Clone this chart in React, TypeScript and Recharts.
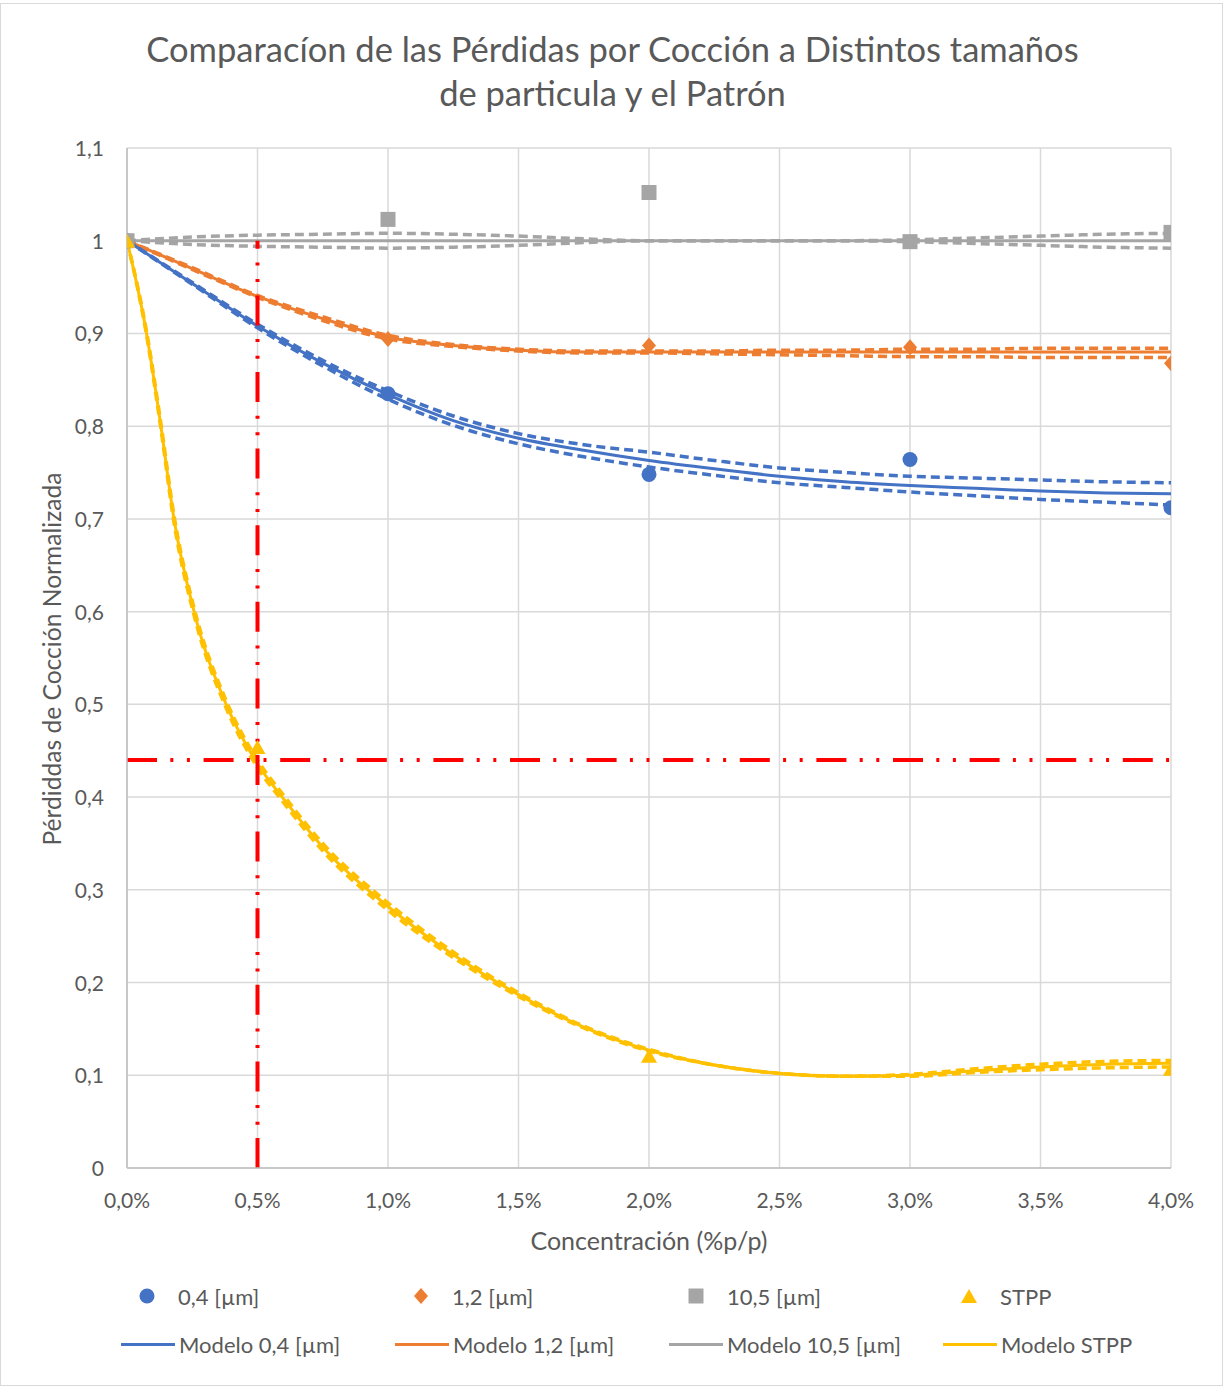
import { ComposedChart, Line, Scatter, XAxis, YAxis, CartesianGrid } from 'recharts';

// ---- data ----
const xTicks = [0, 0.5, 1, 1.5, 2, 2.5, 3, 3.5, 4];
const yTicks = [0, 0.1, 0.2, 0.3, 0.4, 0.5, 0.6, 0.7, 0.8, 0.9, 1, 1.1];

const sampleX = [0, 1, 2, 3, 4];
const blueY = [1, 0.835, 0.748, 0.764, 0.712];
const orangeY = [1, 0.894, 0.887, 0.885, 0.868];
const grayY = [1, 1.023, 1.052, 0.999, 1.009];
const stppX = [0, 0.5, 2, 4];
const stppY = [1, 0.454, 0.121, 0.107];

const modelX = [0, 0.25, 0.5, 0.75, 1, 1.25, 1.5, 1.75, 2, 2.25, 2.5, 2.75, 3, 3.25, 3.5, 3.75, 4];
const blueModel = [1, 0.954, 0.908, 0.868, 0.834, 0.806, 0.787, 0.774, 0.763, 0.754, 0.746, 0.74, 0.736, 0.733, 0.73, 0.728, 0.727];
const blueUpper = [1, 0.955, 0.91, 0.871, 0.838, 0.811, 0.792, 0.78, 0.772, 0.763, 0.755, 0.75, 0.746, 0.744, 0.742, 0.74, 0.739];
const blueLower = [1, 0.953, 0.906, 0.865, 0.829, 0.801, 0.781, 0.767, 0.756, 0.747, 0.739, 0.734, 0.729, 0.725, 0.721, 0.718, 0.715];
const orangeModel = [1, 0.97, 0.94, 0.916, 0.896, 0.887, 0.882, 0.88, 0.88, 0.88, 0.88, 0.88, 0.88, 0.88, 0.88, 0.88, 0.88];
const orangeUpper = [1, 0.971, 0.941, 0.918, 0.898, 0.888, 0.883, 0.881, 0.881, 0.881, 0.882, 0.882, 0.883, 0.883, 0.884, 0.884, 0.884];
const orangeLower = [1, 0.969, 0.939, 0.914, 0.894, 0.886, 0.881, 0.879, 0.879, 0.878, 0.877, 0.876, 0.875, 0.875, 0.874, 0.874, 0.874];
const grayModel = [1, 1, 1, 1, 1, 1, 1, 1, 1, 1, 1, 1, 1, 1, 1, 1, 1];
const grayUpper = [1, 1.004, 1.006, 1.007, 1.008, 1.007, 1.005, 1.002, 1, 1, 1, 1, 1.001, 1.003, 1.005, 1.007, 1.008];
const grayLower = [1, 0.996, 0.994, 0.993, 0.992, 0.993, 0.995, 0.998, 1, 1, 1, 1, 0.999, 0.997, 0.995, 0.993, 0.992];

const stppModelX = [0, 0.075, 0.13, 0.18, 0.257, 0.38, 0.5, 0.6, 0.75, 1, 1.25, 1.5, 1.75, 2, 2.25, 2.5, 2.75, 3, 3.25, 3.5, 3.75, 4];
const stppModel = [1, 0.9, 0.8, 0.7, 0.6, 0.5, 0.436, 0.398, 0.346, 0.282, 0.23, 0.187, 0.152, 0.127, 0.111, 0.102, 0.099, 0.1, 0.105, 0.109, 0.112, 0.113];
const stppUpper = [1, 0.902, 0.803, 0.704, 0.604, 0.504, 0.44, 0.402, 0.35, 0.286, 0.233, 0.189, 0.153, 0.128, 0.111, 0.102, 0.099, 0.101, 0.107, 0.112, 0.115, 0.116];
const stppLower = [1, 0.898, 0.797, 0.696, 0.596, 0.496, 0.432, 0.394, 0.342, 0.278, 0.227, 0.185, 0.151, 0.126, 0.111, 0.102, 0.099, 0.099, 0.103, 0.106, 0.108, 0.109];

const guideHX = [0, 4];
const guideHY = [0.44, 0.44];
const guideVX = [0.5, 0.5];
const guideVY = [0, 1];

const zip = (xs: number[], ys: number[]) => xs.map((x, i) => ({ x, y: ys[i] }));

const BLUE = '#4472C4';
const ORANGE = '#ED7D31';
const GRAY = '#A5A5A5';
const YELLOW = '#FFC000';
const TEXT = '#595959';
const FONT = 'Lato, "Open Sans", sans-serif';

const comma = (v: number) => String(Number(v.toFixed(2))).replace('.', ',');

const XTick = ({ x, y, payload }: any) => (
  <text x={x} y={y + 40} textAnchor="middle" fill={TEXT} fontSize={21} fontFamily={FONT}>
    {payload.value.toFixed(1).replace('.', ',') + '%'}
  </text>
);

const YTick = ({ x, y, payload }: any) => (
  <text x={x - 23} y={y + 8} textAnchor="end" fill={TEXT} fontSize={21} fontFamily={FONT}>
    {comma(payload.value)}
  </text>
);

const circle = (p: any) => <circle cx={p.cx} cy={p.cy} r={7.5} fill={BLUE} />;
const diamond = (p: any) => (
  <polygon points={`${p.cx},${p.cy - 8} ${p.cx + 7},${p.cy} ${p.cx},${p.cy + 8} ${p.cx - 7},${p.cy}`} fill={ORANGE} />
);
const square = (p: any) => <rect x={p.cx - 7.5} y={p.cy - 7.5} width={15} height={15} fill={GRAY} />;
const triangle = (p: any) => (
  <polygon points={`${p.cx},${p.cy - 7} ${p.cx + 8},${p.cy + 7} ${p.cx - 8},${p.cy + 7}`} fill={YELLOW} />
);

const solid = (data: any[], color: string) => (
  <Line data={data} dataKey="y" type="monotone" stroke={color} strokeWidth={3} dot={false} isAnimationActive={false} />
);
const dashed = (data: any[], color: string) => (
  <Line
    data={data}
    dataKey="y"
    type="monotone"
    stroke={color}
    strokeWidth={3.5}
    strokeDasharray="9 5"
    dot={false}
    isAnimationActive={false}
  />
);

const legendMarkers = [
  { label: '0,4 [µm]', shape: 'circle', color: BLUE, x: 139 },
  { label: '1,2 [µm]', shape: 'diamond', color: ORANGE, x: 413 },
  { label: '10,5 [µm]', shape: 'square', color: GRAY, x: 688 },
  { label: 'STPP', shape: 'triangle', color: YELLOW, x: 961 },
];
const legendLines = [
  { label: 'Modelo 0,4 [µm]', color: BLUE, x: 121 },
  { label: 'Modelo 1,2 [µm]', color: ORANGE, x: 395 },
  { label: 'Modelo 10,5 [µm]', color: GRAY, x: 669 },
  { label: 'Modelo STPP', color: YELLOW, x: 943 },
];

const MarkerIcon = ({ shape, color }: { shape: string; color: string }) => (
  <svg width={16} height={16} style={{ display: 'block' }}>
    {shape === 'circle' && <circle cx={8} cy={8} r={7.5} fill={color} />}
    {shape === 'diamond' && <polygon points="8,0 15,8 8,16 1,8" fill={color} />}
    {shape === 'square' && <rect x={0.5} y={0.5} width={15} height={15} fill={color} />}
    {shape === 'triangle' && <polygon points="8,1 16,15 0,15" fill={color} />}
  </svg>
);

export default function App() {
  return (
    <div style={{ position: 'absolute', left: 0, top: 0, width: 1225, height: 1388, background: '#fff', fontFamily: FONT }}>
      <div style={{ position: 'absolute', left: 0, top: 3, width: 1221, height: 1381, border: '1px solid #d9d9d9' }} />
      <div
        style={{
          position: 'absolute',
          left: 0,
          top: 27,
          width: 1225,
          textAlign: 'center',
          color: TEXT,
          fontSize: 34.5,
          lineHeight: '44px',
        }}
      >
        Comparacíon de las Pérdidas por Cocción a Distintos tamaños
        <br />
        de particula y el Patrón
      </div>

      <div style={{ position: 'absolute', left: 0, top: 0 }}>
        <ComposedChart width={1225} height={1388} margin={{ top: 148, right: 54, bottom: 190, left: 0 }}>
          <CartesianGrid stroke="#d9d9d9" strokeWidth={1.5} />
          <XAxis
            type="number"
            dataKey="x"
            domain={[0, 4]}
            ticks={xTicks}
            tick={<XTick />}
            tickLine={false}
            tickSize={0}
            tickMargin={0}
            stroke="#bfbfbf"
            strokeWidth={1.5}
            height={30}
            allowDataOverflow
          />
          <YAxis
            type="number"
            domain={[0, 1.1]}
            ticks={yTicks}
            tick={<YTick />}
            tickLine={false}
            tickSize={0}
            tickMargin={0}
            stroke="#bfbfbf"
            strokeWidth={1.5}
            width={127}
            allowDataOverflow
          />

          {dashed(zip(modelX, grayUpper), GRAY)}
          {dashed(zip(modelX, grayLower), GRAY)}
          {solid(zip(modelX, grayModel), GRAY)}
          {dashed(zip(modelX, orangeUpper), ORANGE)}
          {dashed(zip(modelX, orangeLower), ORANGE)}
          {solid(zip(modelX, orangeModel), ORANGE)}
          {dashed(zip(modelX, blueUpper), BLUE)}
          {dashed(zip(modelX, blueLower), BLUE)}
          {solid(zip(modelX, blueModel), BLUE)}
          {dashed(zip(stppModelX, stppUpper), YELLOW)}
          {dashed(zip(stppModelX, stppLower), YELLOW)}
          {solid(zip(stppModelX, stppModel), YELLOW)}

          <Scatter data={zip(sampleX, blueY)} dataKey="y" shape={circle} isAnimationActive={false} />
          <Scatter data={zip(sampleX, orangeY)} dataKey="y" shape={diamond} isAnimationActive={false} />
          <Scatter data={zip(sampleX, grayY)} dataKey="y" shape={square} isAnimationActive={false} />
          <Scatter data={zip(stppX, stppY)} dataKey="y" shape={triangle} isAnimationActive={false} />

          <Line
            data={zip(guideHX, guideHY)}
            dataKey="y"
            type="linear"
            stroke="#FF0000"
            strokeWidth={4}
            strokeDasharray="30 13.3 3 13.6 3 13.7"
            dot={false}
            isAnimationActive={false}
          />
          <Line
            data={zip(guideVX, guideVY)}
            dataKey="y"
            type="linear"
            stroke="#FF0000"
            strokeWidth={4}
            strokeDasharray="30 13.3 3 13.6 3 13.7"
            dot={false}
            isAnimationActive={false}
          />
        </ComposedChart>
      </div>

      <div
        style={{
          position: 'absolute',
          left: 0,
          top: 1225,
          width: 1298,
          textAlign: 'center',
          color: TEXT,
          fontSize: 25,
          lineHeight: '30px',
        }}
      >
        Concentración (%p/p)
      </div>
      <div
        style={{
          position: 'absolute',
          left: 52 - 300,
          top: 659 - 15,
          width: 600,
          textAlign: 'center',
          color: TEXT,
          fontSize: 24.6,
          lineHeight: '30px',
          transform: 'rotate(-90deg)',
        }}
      >
        Pérdiddas de Cocción Normalizada
      </div>

      {legendMarkers.map((m) => (
        <div key={m.label} style={{ position: 'absolute', left: m.x, top: 1281, height: 30, display: 'flex', alignItems: 'center' }}>
          <MarkerIcon shape={m.shape} color={m.color} />
          <span style={{ marginLeft: 23, color: TEXT, fontSize: 22 }}>{m.label}</span>
        </div>
      ))}
      {legendLines.map((l) => (
        <div key={l.label} style={{ position: 'absolute', left: l.x, top: 1329, height: 30, display: 'flex', alignItems: 'center' }}>
          <span style={{ display: 'block', width: 54, height: 3, background: l.color }} />
          <span style={{ marginLeft: 4, color: TEXT, fontSize: 22 }}>{l.label}</span>
        </div>
      ))}
    </div>
  );
}
